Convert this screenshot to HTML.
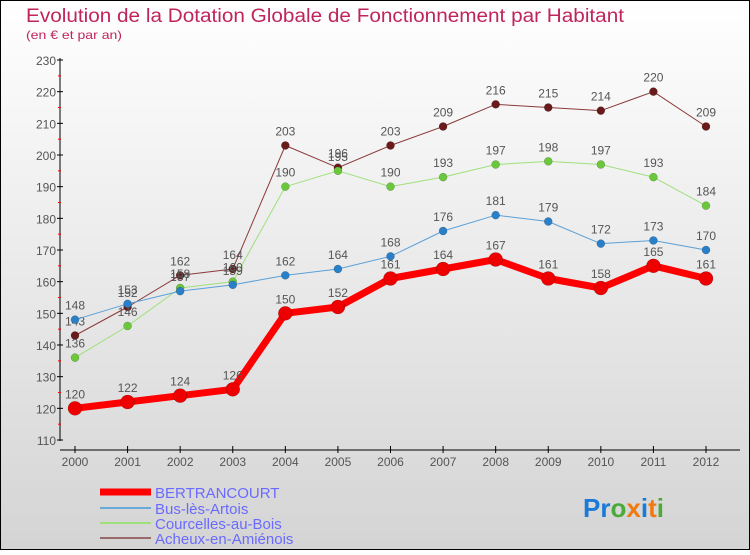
<!DOCTYPE html>
<html><head><meta charset="utf-8"><style>
body{margin:0;}
#c{width:750px;height:550px;position:relative;font-family:"Liberation Sans",sans-serif;}
</style></head><body>
<div id="c">
<svg id="s" width="750" height="550" xmlns="http://www.w3.org/2000/svg">
<defs><linearGradient id="bg" x1="0" y1="0" x2="0" y2="1"><stop offset="0" stop-color="#ffffff"/><stop offset="1" stop-color="#d4d4d4"/></linearGradient></defs>
<rect x="0.5" y="0.5" width="749" height="549" fill="url(#bg)" stroke="#000"/>
<text x="26" y="22" font-size="19" fill="#c0245c" textLength="598" lengthAdjust="spacingAndGlyphs">Evolution de la Dotation Globale de Fonctionnement par Habitant</text>
<text x="26" y="39" font-size="12" fill="#c0245c" textLength="96" lengthAdjust="spacingAndGlyphs">(en € et par an)</text>
<g id="axes"></g><g id="series"></g>
<g>
<line x1="100" y1="492" x2="151" y2="492" stroke="#f00" stroke-width="7"/>
<text x="155" y="498" font-size="15" fill="#6a6aff">BERTRANCOURT</text>
<line x1="100" y1="508" x2="151" y2="508" stroke="#6aaad8" stroke-width="2"/>
<text x="155" y="514" font-size="15" fill="#6a6aff">Bus-lès-Artois</text>
<line x1="100" y1="523" x2="151" y2="523" stroke="#9ee07a" stroke-width="2"/>
<text x="155" y="529" font-size="15" fill="#6a6aff">Courcelles-au-Bois</text>
<line x1="100" y1="538" x2="151" y2="538" stroke="#9a6a6a" stroke-width="2"/>
<text x="155" y="544" font-size="15" fill="#6a6aff">Acheux-en-Amiénois</text>
</g>
<text x="583" y="517" font-size="26" font-weight="bold"><tspan fill="#1a7ad8">Pr</tspan><tspan fill="#4caa3a">o</tspan><tspan fill="#f07a10">x</tspan><tspan fill="#1a7ad8">i</tspan><tspan fill="#f07a10">t</tspan><tspan fill="#4caa3a">i</tspan></text>
</svg></div>
<script>
const years=[2000,2001,2002,2003,2004,2005,2006,2007,2008,2009,2010,2011,2012];
const yTicks=[110,120,130,140,150,160,170,180,190,200,210,220,230];
const bertrancourt=[120,122,124,126,150,152,161,164,167,161,158,165,161];
const bus=[148,153,157,159,162,164,168,176,181,179,172,173,170];
const courcelles=[136,146,158,160,190,195,190,193,197,198,197,193,184];
const acheux=[143,152,162,164,203,196,203,209,216,215,214,220,209];
const NS="http://www.w3.org/2000/svg";
const X=i=>75+i*(706-75)/(years.length-1);
const Y=v=>440-(v-110)*(380/120);
function mk(t,a,p){const e=document.createElementNS(NS,t);for(const k in a)e.setAttribute(k,a[k]);p.appendChild(e);return e;}
const ax=document.getElementById('axes');
let e=mk('line',{x1:60,y1:58,x2:60,y2:441,stroke:'#000'},ax);


e=mk('line',{x1:60,y1:450,x2:740,y2:450,stroke:'#000'},ax);


yTicks.forEach(v=>{mk('line',{x1:57,y1:Y(v),x2:63,y2:Y(v),stroke:'#000'},ax);
 if(v<230)mk('line',{x1:58,y1:Y(v+5),x2:61,y2:Y(v+5),stroke:'#f00'},ax);
 const t=mk('text',{x:56,y:Y(v)+5,'font-size':12,fill:'#555','text-anchor':'end'},ax);t.textContent=v;
 
 });
years.forEach((y,i)=>{mk('line',{x1:X(i),y1:446,x2:X(i),y2:453,stroke:'#000'},ax);
 const t=mk('text',{x:X(i),y:466,'font-size':12,fill:'#555','text-anchor':'middle'},ax);t.textContent=y;
 
 });
const sg=document.getElementById('series');
function draw(d,col,dot,w,r,name){
 const g=mk('g',{},sg);
 
 
 mk('polyline',{points:d.map((v,i)=>X(i)+','+Y(v)).join(' '),fill:'none',stroke:col,'stroke-width':w,'stroke-linejoin':'round'},g);
 d.forEach((v,i)=>{const c=mk('circle',{cx:X(i),cy:Y(v),r:r,fill:dot,stroke:'rgba(0,0,0,0.3)','stroke-width':0.5},g);
  
  
  const t=mk('text',{x:X(i),y:Y(v)-10,'font-size':12,fill:'#555','text-anchor':'middle'},g);t.textContent=v;
  
  });
}
draw(acheux,'#8a3a3a','#6a1a1a',1,4,'series-acheux');
draw(courcelles,'#9ee07a','#6ac83a',1,4,'series-courcelles');
draw(bus,'#5aa0d8','#2a80c8',1,4,'series-bus');
draw(bertrancourt,'#f00','#e00',7,7,'series-bertrancourt');
</script>
</body></html>
